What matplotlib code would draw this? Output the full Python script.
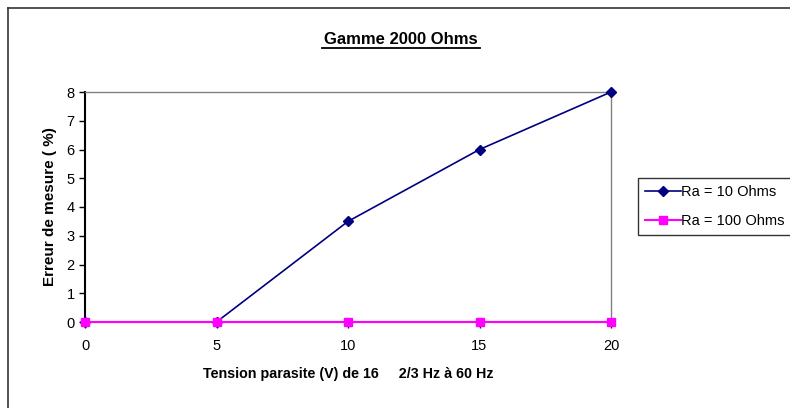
import matplotlib
matplotlib.use("Agg")
import matplotlib.pyplot as plt
from matplotlib.lines import Line2D

plt.rcParams['font.family'] = ['Liberation Sans', 'DejaVu Sans']

# data
tension = [0, 5, 10, 15, 20]
ra10 = [0, 0, 3.5, 6, 8]
ra100 = [0, 0, 0, 0, 0]

fig = plt.figure(figsize=(7.9, 4.08), dpi=100)
ax = fig.add_axes([85/790, 86/408, 526/790, 230/408])

ax.plot(tension, ra10, color='#000080', marker='D', markersize=5, lw=1.2,
        label='Ra = 10 Ohms', clip_on=False, zorder=3)
ax.plot(tension, ra100, color='#FF00FF', marker='s', markersize=6, lw=1.5,
        label='Ra = 100 Ohms', clip_on=False, zorder=4)

ax.set_xlim(0, 20)
ax.set_ylim(0, 8)
ax.set_xticks(tension)
ax.set_yticks(range(0, 9))
ax.tick_params(direction='out', length=4, width=1, labelsize=10.5, colors='black')
ax.tick_params(axis='x', pad=8)

for s in ['top', 'right']:
    ax.spines[s].set_color('#808080')
    ax.spines[s].set_linewidth(1)
ax.spines['left'].set_color('black')
ax.spines['left'].set_linewidth(1.5)
ax.spines['bottom'].set_color('#808080')
ax.spines['bottom'].set_linewidth(1.5)

ax.set_xlabel('Tension parasite (V) de 16     2/3 Hz à 60 Hz', fontsize=10.3,
              fontweight='bold', labelpad=10)
ax.set_ylabel('Erreur de mesure ( %)', fontsize=11, fontweight='bold', labelpad=7)

# title with underline
fig.text(401/790, 1 - 40/408, 'Gamme 2000 Ohms', ha='center', va='center',
         fontsize=12, fontweight='bold')
fig.add_artist(Line2D([322/790, 480/790], [1 - 48/408, 1 - 48/408],
                      color='black', lw=1.3))

leg = fig.legend(loc='upper left', bbox_to_anchor=(638/790, 1 - 178/408),
                 fontsize=10.5, frameon=True, fancybox=False, borderpad=0.5,
                 handlelength=2.45, handletextpad=0.0, labelspacing=1.0,
                 borderaxespad=0)
leg.get_frame().set_edgecolor('black')
leg.get_frame().set_linewidth(1)

# outer chart border (left and top visible)
fig.add_artist(Line2D([8/790, 8/790], [0, 1 - 8/408], color='#333333', lw=1.2))
fig.add_artist(Line2D([8/790, 1], [1 - 8/408, 1 - 8/408], color='#333333', lw=1.2))

fig.savefig('out.png', dpi=100)
